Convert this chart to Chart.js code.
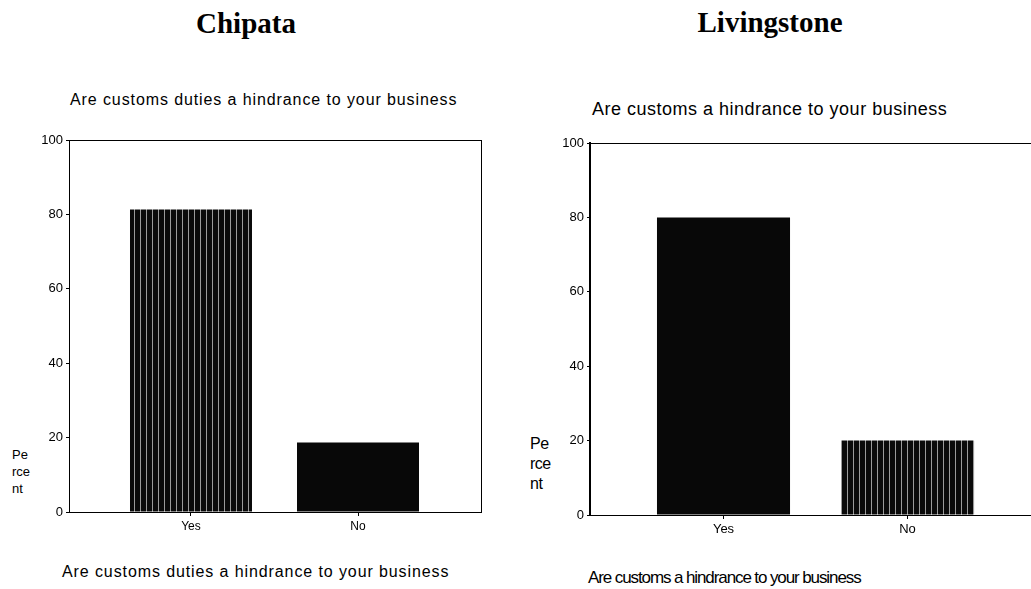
<!DOCTYPE html>
<html>
<head>
<meta charset="utf-8">
<script src="https://cdn.jsdelivr.net/npm/chart.js@4.4.1/dist/chart.umd.min.js"></script>
<style>
  body { margin: 0; background: #fff; width: 1031px; height: 589px; position: relative; overflow: hidden;
         font-family: "Liberation Sans", Arial, sans-serif; color: #000; }
  .chart-box { position: absolute; top: 0; height: 589px; }
  .txt { position: absolute; white-space: nowrap; line-height: 1; }
  .city { font-family: "Liberation Serif", "Times New Roman", serif; font-weight: bold; font-size: 29px; transform: translateX(-50%); }
</style>
</head>
<body>
  <div class="txt city" style="left:246px; top:9px;">Chipata</div>
  <div class="txt city" style="left:770px; top:8px;">Livingstone</div>

  <div class="txt" style="left:70px; top:92px; font-size:16px; letter-spacing:0.9px;">Are customs duties a hindrance to your business</div>
  <div class="txt" style="left:592px; top:100px; font-size:18px; letter-spacing:0.5px;">Are customs a hindrance to your business</div>

  <div class="txt" style="left:12px; top:446px; font-size:13px; line-height:17px;">Pe<br>rce<br>nt</div>
  <div class="txt" style="left:530px; top:434px; font-size:16px; line-height:20px; letter-spacing:-0.5px;">Pe<br>rce<br>nt</div>

  <div class="txt" style="left:62px; top:564px; font-size:16px; letter-spacing:0.9px;">Are customs duties a hindrance to your business</div>
  <div class="txt" style="left:588px; top:569px; font-size:17px; letter-spacing:-1.1px;">Are customs a hindrance to your business</div>

  <div class="chart-box" style="left:0; width:515px;"><canvas id="chart-chipata"></canvas></div>
  <div class="chart-box" style="left:515px; width:516px;"><canvas id="chart-livingstone"></canvas></div>

<script>
const categories = ['Yes', 'No'];
const chipataValues = [81.3, 18.7];
const livingstoneValues = [80.0, 20.0];
const yTicks = [0, 20, 40, 60, 80, 100];

// scanned bars: black with thin light streaks
function streakPattern() {
    const c = document.createElement('canvas');
    c.width = 6; c.height = 4;
    const g = c.getContext('2d');
    g.fillStyle = '#0a0a0a';
    g.fillRect(0, 0, 6, 4);
    g.fillStyle = '#9a9a9a';
    g.fillRect(2, 0, 1, 4);
    return g.createPattern(c, 'repeat');
}

function makeChart(id, values, colors, opt) {
    const ctx = document.getElementById(id).getContext('2d');
    const scales = {
        x: {
            type: 'linear',
            min: opt.xMin,
            max: opt.xMax,
            offset: false,
            afterBuildTicks: (scale) => {
                scale.ticks = categories.map((c, i) => ({ value: i + 1 }));
            },
            afterFit: (scale) => { scale.height = opt.xHeight; },
            ticks: {
                color: '#000',
                font: { family: 'Liberation Sans', size: opt.xTickSize },
                padding: 3,
                maxRotation: 0,
                callback: (v) => categories[v - 1] || ''
            },
            grid: { display: true, offset: false, drawOnChartArea: false, tickLength: 4, tickColor: '#000' },
            border: { display: true, color: '#000', width: 1 }
        },
        y: {
            min: 0,
            max: 100,
            afterBuildTicks: (scale) => {
                scale.ticks = yTicks.map(v => ({ value: v }));
            },
            afterFit: (scale) => { scale.width = opt.yWidth; },
            ticks: {
                color: '#000',
                font: { family: 'Liberation Sans', size: opt.yTickSize },
                padding: 3
            },
            grid: {
                color: (c) => (c.tick && c.tick.value === 100) ? '#000' : 'rgba(0,0,0,0)',
                tickColor: '#000',
                tickLength: 3,
                lineWidth: 1
            },
            border: { display: true, color: '#000', width: opt.yBorder }
        }
    };
    if (opt.rightBorder) {
        scales.y2 = {
            position: 'right',
            min: 0,
            max: 100,
            afterFit: (scale) => { scale.width = 0; },
            ticks: { display: false },
            grid: { display: false },
            border: { display: true, color: '#000', width: 1 }
        };
    }
    return new Chart(ctx, {
        type: 'bar',
        data: {
            datasets: [{
                data: values.map((v, i) => ({ x: i + 1, y: v })),
                backgroundColor: colors,
                borderWidth: 0,
                categoryPercentage: 1,
                barPercentage: opt.barPct
            }]
        },
        options: {
            responsive: true,
            maintainAspectRatio: false,
            animation: false,
            layout: { padding: { top: opt.top, right: opt.right, left: 0, bottom: 0 } },
            plugins: {
                legend: { display: false },
                tooltip: { enabled: false }
            },
            scales: scales
        }
    });
}

const pattern = streakPattern();

makeChart('chart-chipata', chipataValues, [pattern, '#080808'], {
    xMin: 0.2695, xMax: 2.7365, barPct: 0.7305,
    top: 140, right: 34, xHeight: 77, yWidth: 69,
    xTickSize: 12, yTickSize: 13, yBorder: 1, rightBorder: true
});

makeChart('chart-livingstone', livingstoneValues, ['#080808', pattern], {
    xMin: 0.2745, xMax: 2.671, barPct: 0.723,
    top: 143, right: 0, xHeight: 74, yWidth: 75,
    xTickSize: 13, yTickSize: 13, yBorder: 2, rightBorder: false
});
</script>
</body>
</html>
